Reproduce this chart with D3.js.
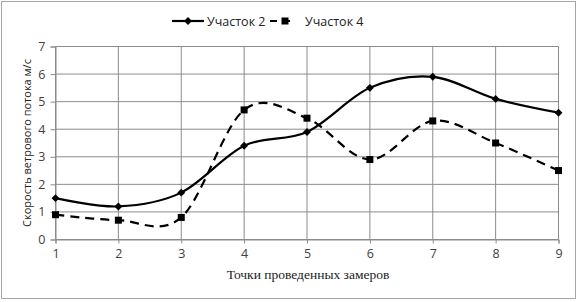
<!DOCTYPE html>
<html><head><meta charset="utf-8">
<script src="https://cdn.jsdelivr.net/npm/d3@7"></script>
<style>body{margin:0;background:#fff}svg{display:block}</style>
</head><body>
<svg id="c" width="578" height="302"></svg>
<script>
const categories = [1,2,3,4,5,6,7,8,9];
const seriesNames = ["Участок 2","Участок 4"];
const uchastok2 = [1.5,1.2,1.7,3.4,3.9,5.5,5.9,5.1,4.6];
const uchastok4 = [0.9,0.7,0.8,4.7,4.4,2.9,4.3,3.5,2.5];
const yTicks = [0,1,2,3,4,5,6,7];
const xTitle = "Точки проведенных замеров";
const yTitle = "Скорость ветрового потока м/с";

const svg = d3.select("#c");
svg.append("rect").attr("x",1.5).attr("y",1.5).attr("width",574).attr("height",297)
  .attr("fill","#fff").attr("stroke","#a6a6a6").attr("stroke-width",1);

const x = d3.scaleLinear().domain([1,9]).range([55.5,558.5]);
const y = d3.scaleLinear().domain([0,7]).range([239.5,46.5]);
const grid = "#8c8c8c";

svg.append("g").selectAll("line").data(yTicks).join("line")
  .attr("x1",x(1)).attr("x2",x(9)).attr("y1",d=>y(d)).attr("y2",d=>y(d))
  .attr("stroke",grid).attr("stroke-width",1);
svg.append("g").selectAll("line").data(categories).join("line")
  .attr("x1",d=>x(d)).attr("x2",d=>x(d)).attr("y1",y(7)).attr("y2",y(0))
  .attr("stroke",grid).attr("stroke-width",1);

const yAxis = svg.append("g").attr("transform",`translate(${x(1)},0)`)
  .call(d3.axisLeft(y).tickValues(yTicks).tickSize(5).tickPadding(5).tickFormat(d3.format("d")));
const xAxis = svg.append("g").attr("transform",`translate(0,${y(0)})`)
  .call(d3.axisBottom(x).tickValues(categories).tickSize(4).tickPadding(6).tickFormat(d3.format("d")));
[yAxis,xAxis].forEach(a=>{
  a.select(".domain").attr("stroke",grid);
  a.selectAll(".tick line").attr("stroke",grid);
  a.selectAll("text").attr("font-family","'Open Sans', 'Liberation Sans', sans-serif").attr("font-size",12.5).attr("fill","#404040");
});

const line = d3.line().x((d,i)=>x(categories[i])).y(d=>y(d)).curve(d3.curveCatmullRom.alpha(0));

svg.append("path").datum(uchastok4).attr("d",line).attr("fill","none")
  .attr("stroke","#000").attr("stroke-width",2.2).attr("stroke-dasharray","9,6");
svg.append("path").datum(uchastok2).attr("d",line).attr("fill","none")
  .attr("stroke","#000").attr("stroke-width",2.2);

const diamond = d3.symbol().type(d3.symbolDiamond2).size(40);
svg.append("g").selectAll("path").data(uchastok2).join("path")
  .attr("transform",(d,i)=>`translate(${x(categories[i])},${y(d)})`).attr("d",diamond).attr("fill","#000");
svg.append("g").selectAll("rect").data(uchastok4).join("rect")
  .attr("x",(d,i)=>x(categories[i])-3.5).attr("y",d=>y(d)-3.5).attr("width",7).attr("height",7).attr("fill","#000");

const lg = svg.append("g").attr("font-family","'Open Sans', 'Liberation Sans', sans-serif").attr("font-size",12.5).attr("fill","#222");
lg.append("line").attr("x1",172).attr("x2",204).attr("y1",21).attr("y2",21).attr("stroke","#000").attr("stroke-width",2.2);
lg.append("path").attr("transform","translate(188,21)").attr("d",diamond).attr("fill","#000");
lg.append("text").attr("x",207).attr("y",25.5).text(seriesNames[0]);
lg.append("line").attr("x1",270).attr("x2",296).attr("y1",21).attr("y2",21).attr("stroke","#000").attr("stroke-width",2.2).attr("stroke-dasharray","7,6");
lg.append("rect").attr("x",281.5).attr("y",17.5).attr("width",7).attr("height",7).attr("fill","#000");
lg.append("text").attr("x",305).attr("y",25.5).text(seriesNames[1]);

svg.append("text").attr("x",308).attr("y",279).attr("text-anchor","middle")
  .attr("font-family","'Liberation Serif', serif").attr("font-size",13.5).attr("fill","#222").text(xTitle);
svg.append("text").attr("transform","translate(31,143) rotate(-90)").attr("text-anchor","middle")
  .attr("font-family","'Open Sans', 'Liberation Sans', sans-serif").attr("font-size",11).attr("fill","#222").text(yTitle);
</script>
</body></html>
